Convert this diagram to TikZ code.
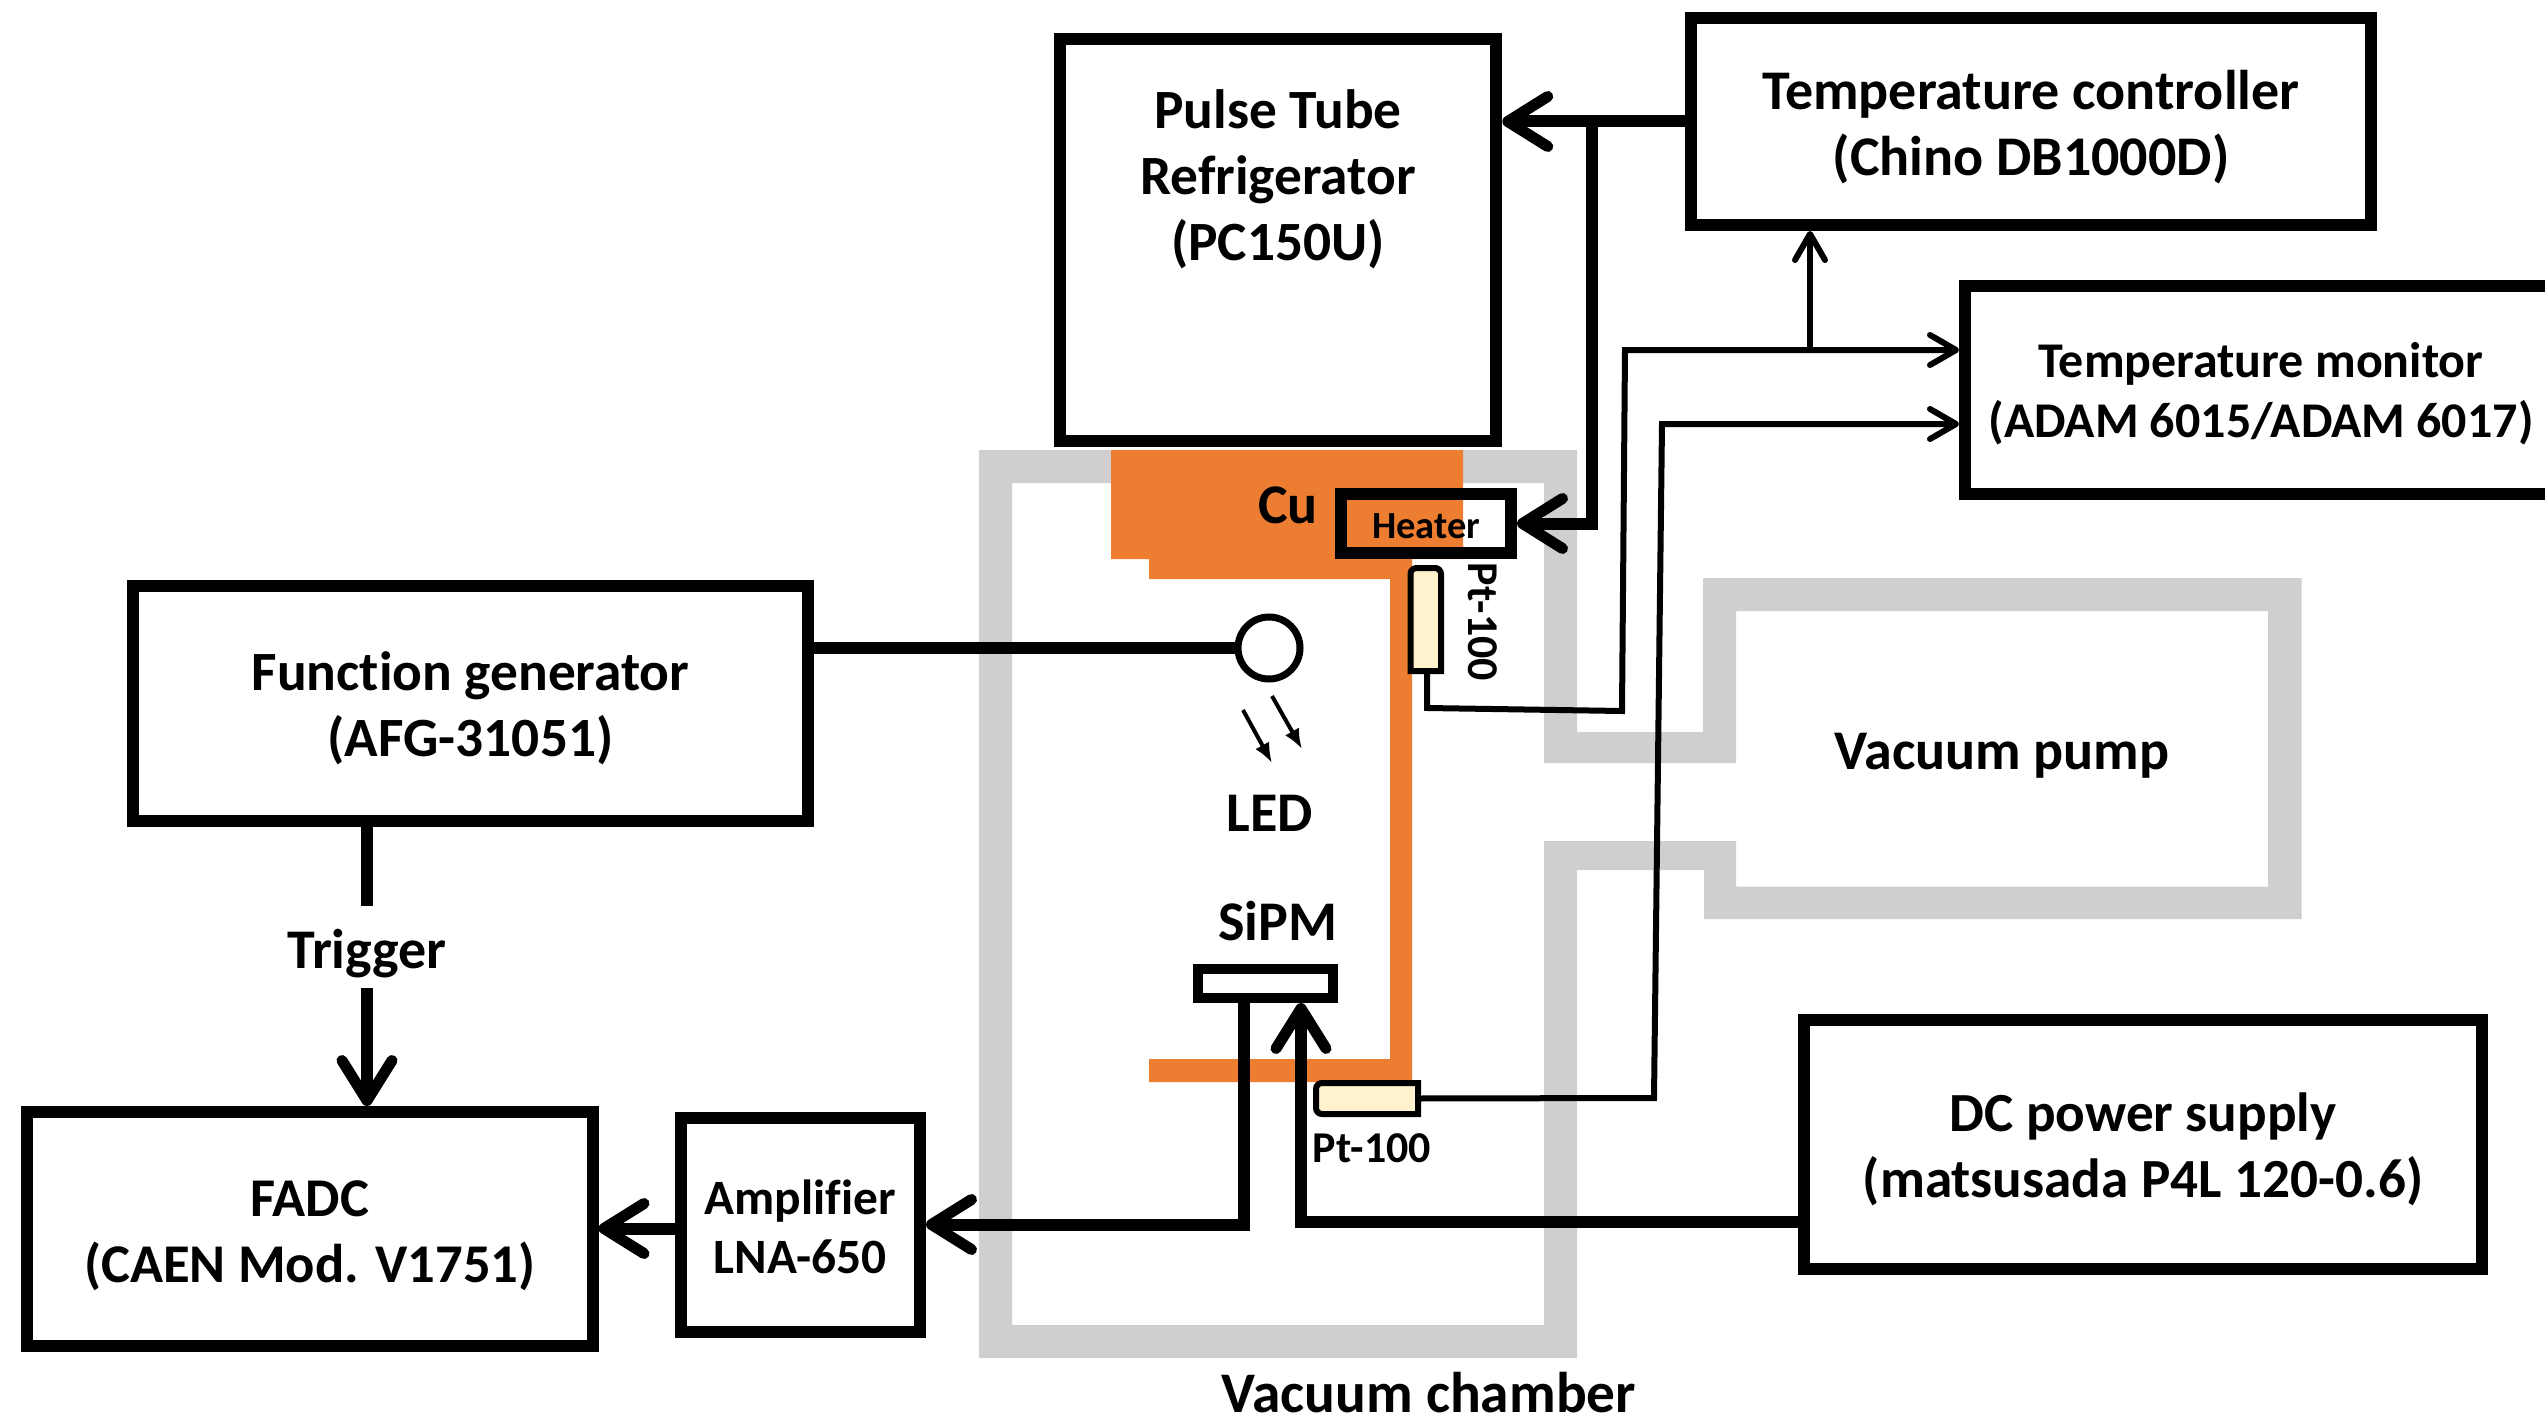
\documentclass[tikz,border=0pt]{standalone}
\usepackage{fontspec}
\setmainfont{Carlito}[Ligatures=CommonOff]
\usetikzlibrary{arrows.meta}
\definecolor{cuorange}{HTML}{ED7D31}
\definecolor{wallgray}{HTML}{D0CECE}
\definecolor{ptcream}{HTML}{FFF2CC}
\newcommand{\topgap}[1]{\rule{0pt}{#1}}
\tikzset{
  x=0.5pt,y=-0.5pt,
  lbl/.style={inner sep=0pt,align=center,font=\fontsize{28}{33}\selectfont\bfseries},
  box/.style={draw=black,line width=6pt,fill=white,inner sep=0pt,align=center,font=\fontsize{28}{33}\selectfont\bfseries},
  barb/.style={-{Straight Barb[round,length=20pt,width=25pt,line width=5.5pt]}},
  wire/.style={line width=6pt},
  heavy/.style={wire,barb},
  thin wire/.style={line width=3pt},
  lightarrow/.style={thin wire,-{Straight Barb[round,length=13pt,width=15pt,line width=3pt]}},
  ledarrow/.style={line width=2pt,-{Latex[length=10pt,width=8pt]}},
  ptbody/.style={inner sep=0pt,outer sep=0pt},
  ptshape/.style={draw=black,fill=ptcream,line width=3pt},
}
\begin{document}
\begin{tikzpicture}
\useasboundingbox (0,0) rectangle (2545,1418);
\fill[white] (0,0) rectangle (2545,1418);
% vacuum chamber and pump walls
\fill[wallgray,even odd rule]
  (979,450)--(1577,450)--(1577,732)--(1703,732)--(1703,578)--(2301.5,578)--(2301.5,919)--(1704,919)--(1704,870)--(1577,870)--(1577,1358)--(979,1358)--cycle
  (1012,483)--(1544,483)--(1544,763)--(1736,763)--(1736,611)--(2268,611)--(2268,886.6)--(1736,886.6)--(1736,841)--(1544,841)--(1544,1325)--(1012,1325)--cycle;
% copper
\fill[cuorange] (1111,450)--(1463,450)--(1463,559)--(1412,559)--(1412,1082)--(1149,1082)--(1149,1059)--(1390,1059)--(1390,579)--(1149,579)--(1149,559)--(1111,559)--cycle;
% boxes
\node[box,minimum width=218.25pt,minimum height=201pt] (pt) at (1278,240) {};
\node[lbl,font=\fontsize{27.7}{33}\selectfont\bfseries] (pttext) at (1278,179) {Pulse Tube\\Refrigerator\\(PC150U)};
\node[box,minimum width=340pt,minimum height=103.5pt] (ctrl) at (2031,121.5) {\topgap{25.4pt}Temperature controller\\(Chino DB1000D)};
\node[box,minimum width=296pt,minimum height=104pt,font=\fontsize{25}{30}\selectfont\bfseries] (mon) at (2261,390) {\topgap{21.5pt}Temperature monitor\\(ADAM 6015/ADAM 6017)};
\node[box,minimum width=337.5pt,minimum height=117.5pt,font=\fontsize{27.7}{33}\selectfont\bfseries] (fg) at (470.5,703) {\topgap{24.5pt}Function generator\\(AFG-31051)};
\node[box,minimum width=282.75pt,minimum height=116.75pt,font=\fontsize{27.3}{33}\selectfont\bfseries] (fadc) at (309.75,1228.75) {\topgap{24.5pt}FADC\\(CAEN Mod. V1751)};
\node[box,minimum width=119.75pt,minimum height=107pt,font=\fontsize{24.7}{29.5}\selectfont\bfseries] (amp) at (800.25,1224.5) {\topgap{20pt}Amplifier\\LNA-650};
\node[box,minimum width=339pt,minimum height=124.75pt,font=\fontsize{27.6}{33}\selectfont\bfseries] (dc) at (2143,1144.25) {\topgap{24.7pt}DC power supply\\(matsusada P4L 120-0.6)};
\node[box,fill=none,minimum width=85pt,minimum height=29.5pt,font=\fontsize{19.2}{23}\selectfont\bfseries] (heater) at (1426,523.5) {\topgap{15pt}Heater};
\node[box,line width=5pt,minimum width=67.5pt,minimum height=14.5pt] (sipm) at (1265.5,983.5) {};
\node[draw=black,fill=white,line width=3.5pt,circle,inner sep=0pt,minimum size=31pt] (led) at (1269,648) {};
% Pt-100 sensors
\node[ptbody,minimum width=15.25pt,minimum height=51.5pt] (pta) at (1425.75,619.5) {};
\path[ptshape] (pta.south west) [rounded corners=3pt] -- (pta.north west) -- (pta.north east) [sharp corners] -- (pta.south east) -- cycle;
\node[ptbody,minimum width=51pt,minimum height=15.5pt] (ptb) at (1367,1098.5) {};
\path[ptshape] (ptb.north east) [rounded corners=3pt] -- (ptb.north west) -- (ptb.south west) [sharp corners] -- (ptb.south east) -- cycle;
% labels
\node[lbl] (cu) at (1288,505) {Cu};
\node[lbl] (ledtext) at (1270,813) {LED};
\node[lbl] (sipmtext) at (1277.5,921) {SiPM};
\node[lbl] (trig) at (367,954) {Trigger};
\node[lbl,font=\fontsize{28.7}{33}\selectfont\bfseries] (chamber) at (1429,1393) {Vacuum chamber};
\node[lbl] (pump) at (2002,756) {Vacuum pump};
\node[lbl,font=\fontsize{22}{25}\selectfont\bfseries,rotate=-90] (pttop) at (1483,622) {Pt-100};
\node[lbl,font=\fontsize{22}{25}\selectfont\bfseries] (ptbottom) at (1372,1148) {Pt-100};
% named junctions
\coordinate (jheat) at (1592,121.5);
\coordinate (jmon) at (1810,350);
\coordinate (wa1) at (1427,708);
\coordinate (wa2) at (1622,711);
\coordinate (wa3) at (1625,350);
\coordinate (wb1) at (1654,1098);
\coordinate (wb2) at (1662,424);
\coordinate (dc1) at (1301,1222);
\coordinate (dc0) at (1797.5,1222);
\coordinate (t0) at (367,906);
\coordinate (t1) at (367,988);
\coordinate (l1a) at (1243,710);
\coordinate (l1b) at (1272,763);
\coordinate (l2a) at (1272,696);
\coordinate (l2b) at (1302,749);
% connectors
\draw[heavy] (ctrl.west) -- (ctrl.west -| pt.east);
\draw[heavy] (jheat) |- (heater.east);
\draw[wire] (fg.east |- led.west) -- (led.west);
\draw[wire] (fg.south -| t0) -- (t0);
\draw[heavy] (t1) -- (t1 |- fadc.north);
\draw[heavy] ([yshift=-2pt]amp.west) -- ([yshift=-2pt]amp.west -| fadc.east);
\draw[heavy] ([xshift=-11pt]sipm.south) |- (amp.east);
\draw[heavy] (dc0) -- (dc1) -- (dc1 |- sipm.south);
\draw[lightarrow] (pta.south -| wa1) -- (wa1) -- (wa2) -- (wa3) -- (wa3 -| mon.west);
\draw[lightarrow] (jmon) -- (jmon |- ctrl.south);
\draw[lightarrow] (ptb.east) -- (wb1) -- (wb2) -- (wb2 -| mon.west);
\draw[ledarrow] (l1a) -- (l1b);
\draw[ledarrow] (l2a) -- (l2b);
\end{tikzpicture}
\end{document}
